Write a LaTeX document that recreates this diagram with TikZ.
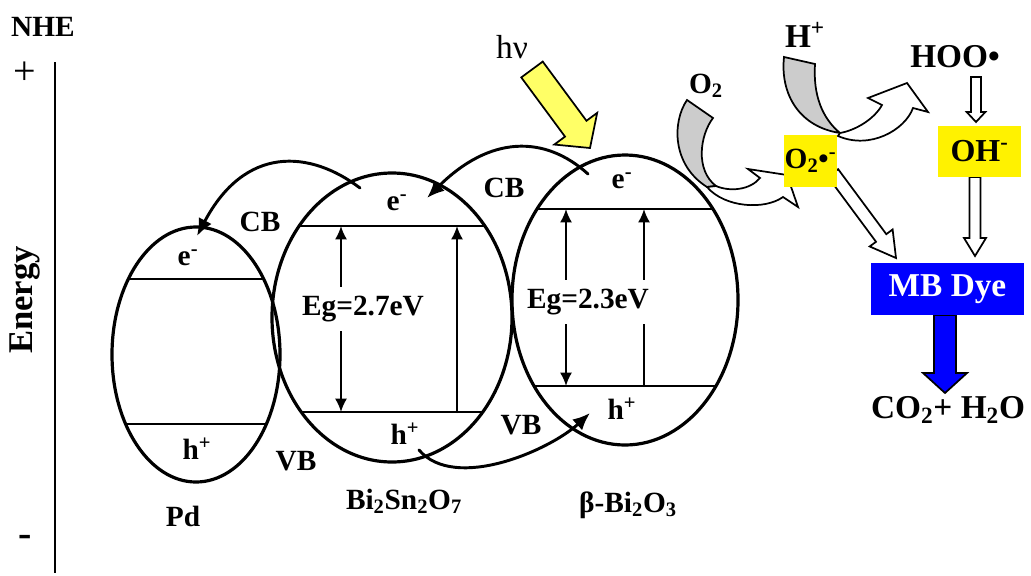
\documentclass[tikz,border=0pt]{standalone}
\usepackage{fontspec}
\setmainfont{Liberation Serif}
\usetikzlibrary{arrows.meta, calc}

\definecolor{hvyellow}{RGB}{255,255,102}
\definecolor{mbblue}{RGB}{0,0,255}
\definecolor{twistgray}{RGB}{204,204,204}

% block arrow: style, from, to, shaft half width, head half width, head length
\newcommand{\blockarrow}[6]{%
    \path ($(#3)!#6!(#2)$) coordinate (ba-base);
    \draw[#1] ($(#2)!#4!90:(#3)$) -- ($(ba-base)!#4!90:(#3)$)
        -- ($(ba-base)!#5!90:(#3)$) -- (#3) -- ($(ba-base)!#5!-90:(#3)$)
        -- ($(ba-base)!#4!-90:(#3)$) -- ($(#2)!#4!-90:(#3)$) -- cycle;
}

\begin{document}
\begin{tikzpicture}[
            x=0.75pt, y=-0.75pt,
            >={Latex[length=10pt,width=9pt]},
            line cap=round,
            band/.style={line width=2.4pt},
            level/.style={line width=1.5pt},
            gap/.style={line width=1.5pt},
            transfer/.style={line width=2.2pt, ->, >={Latex[length=13pt,width=11pt]}},
            lbl/.style={font=\bfseries\fontsize{22}{24}\selectfont, inner sep=0pt},
            big lbl/.style={font=\bfseries\fontsize{25}{28}\selectfont, inner sep=0pt},
            gap label/.style={lbl, fill=white, inner xsep=1pt, inner ysep=7pt},
            hollow/.style={draw=black, fill=white, line width=1.3pt, line join=miter, line cap=butt},
            twist/.style={draw=black, fill=twistgray, line width=1.3pt},
            species/.style={big lbl, fill=yellow, font=\bfseries\fontsize{24}{26}\selectfont},
        ]
        \useasboundingbox (0,0) rectangle (1031,575);

        % energy axis
        \coordinate (axTop) at (55,62);
        \coordinate (axBot) at (55,573);
        \draw[line width=1.5pt, line cap=butt] (axTop) -- (axBot);
        \node[lbl] (nhe) at (43,27) {NHE};
        \node[inner sep=0pt, font=\fontsize{30}{30}\selectfont] (plus) at (25,73) {+};
        \node[lbl, font=\bfseries\fontsize{30}{30}\selectfont] (minus) at (25,541) {-};
        \node[big lbl, font=\bfseries\fontsize{26}{28}\selectfont, rotate=90] (energy) at (25,300) {Energy};

        % O2 twisted arrow
        \draw[twist] (687,100) -- (713,118) .. controls (700,135) and (695,170) .. (716,186)
            -- (707,187) .. controls (672,165) and (672,122) .. (687,100) -- cycle;
        \draw[hollow] (716,186) .. controls (730,192) and (750,190) .. (760,178) -- (748,169)
            -- (787,175) -- (798,207) -- (783,197) .. controls (765,210) and (725,208) .. (707,187) -- cycle;

        % H+ twisted arrow
        \draw[twist] (784,57) -- (815,64) .. controls (813,95) and (822,118) .. (840,133)
            .. controls (800,127) and (780,95) .. (784,57) -- cycle;
        \draw[hollow] (840,133) .. controls (857,130) and (875,118) .. (882,105) -- (868,98)
            -- (907,83) -- (928,112) -- (913,108) .. controls (905,130) and (870,150) .. (838,136) -- cycle;

        % semiconductors
        \coordinate (pd) at (196,354.5);
        \coordinate (bso) at (392,317.5);
        \coordinate (bbo) at (625,300);
        \draw[band] (pd) ellipse [x radius=84, y radius=127.5];
        \draw[band] (bso) ellipse [x radius=120, y radius=144.5];
        \draw[band] (bbo) ellipse [x radius=113, y radius=145];

        \draw[level] ($(pd)+(-68,-75.5)$) -- ($(pd)+(68,-75.5)$);
        \draw[level] ($(pd)+(-70,69.5)$) -- ($(pd)+(70,69.5)$);
        \draw[level] ($(bso)+(-93,-91.5)$) -- ($(bso)+(93,-91.5)$);
        \draw[level] ($(bso)+(-91,94.5)$) -- ($(bso)+(91,94.5)$);
        \draw[level] ($(bbo)+(-88,-91)$) -- ($(bbo)+(88,-91)$);
        \draw[level] ($(bbo)+(-91,86)$) -- ($(bbo)+(91,86)$);

        \draw[gap, <->] ($(bso)+(-51,-91.5)$) -- ($(bso)+(-51,94.5)$);
        \draw[gap, ->] ($(bso)+(65,94.5)$) -- ($(bso)+(65,-91.5)$);
        \draw[gap, <->] ($(bbo)+(-59,-91)$) -- ($(bbo)+(-59,86)$);
        \draw[gap, ->] ($(bbo)+(19,86)$) -- ($(bbo)+(19,-91)$);

        \node[lbl] (pdE) at (188,258) {e\textsuperscript{-}};
        \node[lbl] (pdH) at (197,449) {h\textsuperscript{+}};
        \node[lbl] (pdName) at (183,516) {Pd};
        \node[lbl] (cbLeft) at (260,222) {CB};
        \node[lbl] (vbLeft) at (296,461) {VB};
        \node[lbl] (bsoE) at (397,203) {e\textsuperscript{-}};
        \node[gap label] (bsoEg) at (363,309) {Eg=2.7eV};
        \node[lbl] (bsoH) at (405,434) {h\textsuperscript{+}};
        \node[lbl] (bsoName) at (404,501) {Bi\textsubscript{2}Sn\textsubscript{2}O\textsubscript{7}};
        \node[lbl] (cbRight) at (504,188) {CB};
        \node[lbl] (vbRight) at (521,425) {VB};
        \node[lbl] (bboE) at (622,181) {e\textsuperscript{-}};
        \node[gap label] (bboEg) at (588,302) {Eg=2.3eV};
        \node[lbl] (bboH) at (622,409) {h\textsuperscript{+}};
        \node[lbl] (bboName) at (628,505) {β-Bi\textsubscript{2}O\textsubscript{3}};

        % charge transfer
        \coordinate (bboOut) at (588,174);
        \coordinate (bsoIn) at (427,198);
        \coordinate (bsoOut) at (360,188);
        \coordinate (pdIn) at (197,236);
        \coordinate (holeOut) at (419,450);
        \coordinate (bboHoleIn) at (590,413);
        \draw[transfer] (bboOut) .. controls (545,135) and (490,135) .. (bsoIn);
        \draw[transfer] (bsoOut) .. controls (310,150) and (245,145) .. (pdIn);
        \draw[transfer] (holeOut) .. controls (455,492) and (550,450) .. (bboHoleIn);

        % light
        \node[inner sep=0pt, font=\fontsize{25}{27}\selectfont] (hv) at (512,47) {hν};
        \coordinate (hvTail) at (532,69.5);
        \coordinate (hvTip) at (590,148);
        \blockarrow{draw=black, fill=hvyellow, line width=1.3pt, line join=miter}{hvTail}{hvTip}{10pt}{20pt}{18pt}

        % radicals and dye
        \node[lbl] (oxy) at (706,86) {O\textsubscript{2}};
        \node[big lbl] (proton) at (805,35) {H\textsuperscript{+}};
        \node[big lbl] (hoo) at (955,57) {HOO•};

        \coordinate (hooOut) at (976,77);
        \coordinate (hydroxIn) at (976,122);
        \coordinate (hydroxOut) at (975,177);
        \coordinate (dyeInA) at (975,256);
        \coordinate (superoxOut) at (833,173);
        \coordinate (dyeInB) at (896,258);
        \coordinate (dyeOut) at (945,315);
        \coordinate (prodIn) at (945,393);
        \blockarrow{hollow}{hooOut}{hydroxIn}{3.75pt}{7pt}{7.5pt}
        \blockarrow{hollow}{hydroxOut}{dyeInA}{4.1pt}{8.25pt}{13.5pt}
        \blockarrow{hollow}{superoxOut}{dyeInB}{4.8pt}{10.7pt}{18.7pt}
        \blockarrow{draw=black, fill=mbblue, line width=1.3pt, line join=miter}{dyeOut}{prodIn}{8.25pt}{16.5pt}{15pt}

        \node[species, minimum width=39.75pt, minimum height=39pt, font=\bfseries\fontsize{22}{24}\selectfont]
            (superox) at (810.5,161) {O\textsubscript{2}•\textsuperscript{-}};
        \node[species, minimum width=62pt, minimum height=38pt] (hydrox) at (979.5,151.5) {OH\textsuperscript{-}};
        \node[big lbl, fill=mbblue, text=white, minimum width=115pt, minimum height=39pt] (dye) at (947.5,289) {MB Dye};
        \node[big lbl] (prod) at (948,410) {CO\textsubscript{2}+ H\textsubscript{2}O};
        \end{tikzpicture}
\end{document}
